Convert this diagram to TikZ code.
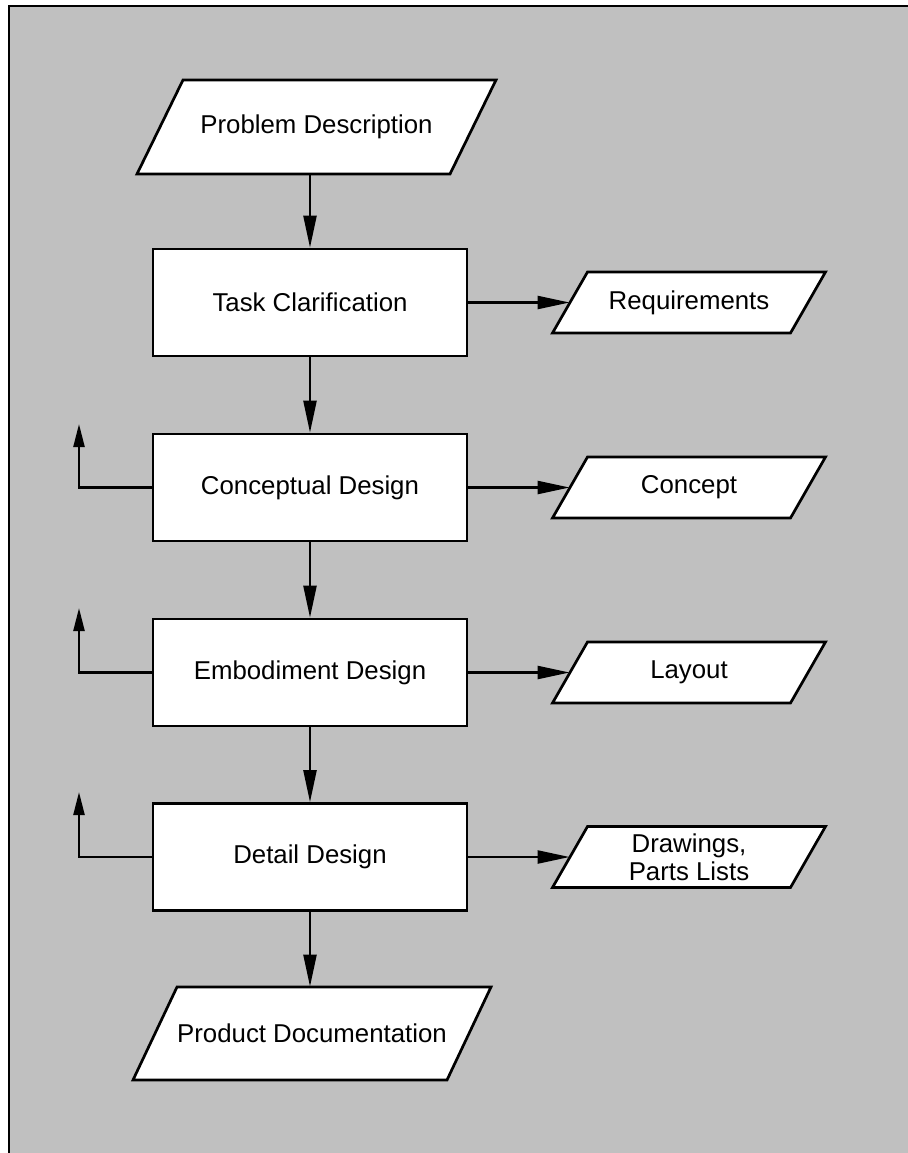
\documentclass[tikz,border=0pt]{standalone}
\usepackage{fontspec}
\setmainfont{Liberation Sans}
\usetikzlibrary{arrows.meta}
\definecolor{panel}{HTML}{C0C0C0}

\tikzset{
  labelfont/.style={font=\fontsize{12.9}{13.8}\selectfont},
  stage/.style={draw=black, line width=1.35pt, fill=white,
    minimum width=157pt, minimum height=53.5pt, inner sep=0pt, labelfont},
  iobox/.style={draw=black, line width=1.35pt, fill=white, line join=miter},
  iotext/.style={inner sep=0pt, align=center, labelfont},
  flow/.style={line width=1.15pt, -{Triangle[length=16pt,width=6.5pt]}},
  back/.style={line width=1.15pt, -{Triangle[length=11.5pt,width=5.5pt]}},
}

% parallelogram for inputs/outputs: name, centre x, centre y, width, height, slant, text
\newcommand\ioshape[7]{%
  \path[iobox] ({#2-#4/2+#6},{#3-#5/2}) -- ({#2+#4/2},{#3-#5/2})
    -- ({#2+#4/2-#6},{#3+#5/2}) -- ({#2-#4/2},{#3+#5/2}) -- cycle;
  \node[iotext, minimum width=#4*0.5pt, minimum height=#5*0.5pt] (#1) at (#2,#3) {#7};
}

\begin{document}
\begin{tikzpicture}[x=0.5pt, y=-0.5pt]
\useasboundingbox (0,0) rectangle (908,1153);
\fill[panel] (9,6) rectangle (908,1153);
\draw[line width=1.3pt] (9,1153) -- (9,6) -- (908,6);

% design stages
\node[stage] (task)   at (310,302.5) {Task Clarification};
\node[stage] (concd)  at (310,487.5) {Conceptual Design};
\node[stage] (embd)   at (310,672.5) {Embodiment Design};
\node[stage] (detd)   at (310,857)   {Detail Design};

% inputs and outputs
\ioshape{prob}{316.5}{127}{359}{94}{46}{Problem Description}
\ioshape{req}{689}{302.5}{273}{61}{35}{Requirements}
\ioshape{conc}{689}{487.5}{273}{61}{35}{Concept}
\ioshape{lay}{689}{672.5}{273}{61}{35}{Layout}
\ioshape{draw}{689}{857}{273}{61}{35}{Drawings,\\Parts Lists}
\ioshape{doc}{312}{1033.5}{358}{93}{44}{Product Documentation}

% main flow
\draw[flow] (task.north |- prob.south) -- (task.north);
\draw[flow] (task.south) -- (concd.north);
\draw[flow] (concd.south) -- (embd.north);
\draw[flow] (embd.south) -- (detd.north);
\draw[flow] (detd.south) -- (detd.south |- doc.north);

% results of each stage
\draw[flow] (task.east)  -- ([xshift=8.75pt]req.west);
\draw[flow] (concd.east) -- ([xshift=8.75pt]conc.west);
\draw[flow] (embd.east)  -- ([xshift=8.75pt]lay.west);
\draw[flow] (detd.east)  -- ([xshift=8.75pt]draw.west);

% iteration back to earlier stages
\coordinate (fbc) at (79,424);
\coordinate (fbe) at (79,608);
\coordinate (fbd) at (79,792);
\draw[back] (concd.west) -| (fbc);
\draw[back] (embd.west)  -| (fbe);
\draw[back] (detd.west)  -| (fbd);
\end{tikzpicture}
\end{document}
